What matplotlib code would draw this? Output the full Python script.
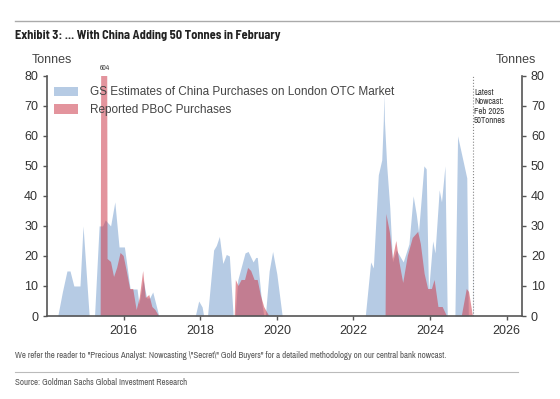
import matplotlib.pyplot as plt
import numpy as np

# GS nowcast of China purchases on the London OTC market (decimal year, tonnes)
gs_year = [2014.28, 2014.40, 2014.52, 2014.60, 2014.70, 2014.86, 2014.94, 2015.10,
           2015.24, 2015.36, 2015.45, 2015.52, 2015.66, 2015.77, 2015.88, 2016.02,
           2016.17, 2016.35, 2016.40, 2016.51, 2016.60, 2016.68, 2016.76, 2016.86,
           2016.92, 2017.87, 2017.96, 2018.05, 2018.09, 2018.19, 2018.35, 2018.42,
           2018.50, 2018.59, 2018.68, 2018.76, 2018.86, 2018.91, 2018.98, 2019.17,
           2019.25, 2019.38, 2019.45, 2019.49, 2019.60, 2019.66, 2019.70, 2019.80,
           2019.89, 2020.00, 2020.14, 2022.31, 2022.45, 2022.52, 2022.65, 2022.74,
           2022.78, 2022.795, 2022.81, 2022.87, 2022.95, 2023.02, 2023.12, 2023.30,
           2023.45, 2023.56, 2023.64, 2023.70, 2023.84, 2023.90, 2023.96, 2024.07,
           2024.13, 2024.24, 2024.30, 2024.39, 2024.45, 2024.65, 2024.72, 2024.96,
           2025.00, 2025.12, 2025.13]
gs_tonnes = [0, 8, 15, 15, 10, 10, 30, 0,
             0, 30, 30, 32, 30, 38, 23, 23,
             9, 9, 4, 12, 6, 6, 8, 3,
             0, 0, 5, 3, 0, 0, 22, 23.5,
             26.5, 17.5, 20.5, 20, 0, 0, 12, 21,
             21.5, 18, 19.5, 19.5, 5, 0, 0, 15,
             21.5, 14, 0, 0, 18, 16, 47, 52,
             65, 74, 65, 50, 36, 18, 22, 18,
             24, 40, 34, 28, 50, 49, 8, 25,
             21, 42, 38, 50, 0, 0, 60, 46,
             0, 0, 48]

# Reported PBoC purchases (decimal year, tonnes)
pboc_year = [2015.40, 2015.50, 2015.58, 2015.67, 2015.75, 2015.83, 2015.92, 2016.00,
             2016.08, 2016.17, 2016.25, 2016.34, 2016.42, 2016.51, 2016.58, 2016.67,
             2016.75, 2016.83, 2016.92, 2018.90, 2018.93, 2019.00, 2019.08, 2019.17,
             2019.25, 2019.33, 2019.42, 2019.50, 2019.58, 2019.67, 2019.80, 2022.84,
             2022.86, 2022.95, 2023.03, 2023.12, 2023.20, 2023.30, 2023.42, 2023.55,
             2023.69, 2023.76, 2023.86, 2023.95, 2024.05, 2024.12, 2024.22, 2024.33,
             2024.44, 2024.83, 2024.96, 2025.02, 2025.12]
pboc_tonnes = [0, 604, 19, 18, 13, 16, 21, 20,
               15, 9, 9, 2, 6, 15, 6, 7,
               3, 2, 0, 0, 12, 10, 12, 12,
               16, 15, 12, 12, 7, 3, 0, 0,
               34, 28, 19, 25, 18, 11, 20, 26,
               28, 24, 14, 9, 9, 12, 3, 3,
               0, 0, 9, 8, 0]

year_ticks = [2016, 2018, 2020, 2022, 2024, 2026]
tonne_ticks = [0, 10, 20, 30, 40, 50, 60, 70, 80]

plt.rcParams['font.family'] = ['Liberation Sans', 'DejaVu Sans']
narrow = ['Archivo Narrow', 'DejaVu Sans']
axis_col = '#555555'

fig = plt.figure(figsize=(5.6, 3.99), dpi=100)
ax = fig.add_axes([0.084, 0.208, 0.848, 0.602])

ax.fill_between(gs_year, gs_tonnes, 0, color='#a9c2e0', alpha=0.85, lw=0,
                label='GS Estimates of China Purchases on London OTC Market')
ax.fill_between(pboc_year, pboc_tonnes, 0, color='#cc3d4d', alpha=0.55, lw=0,
                label='Reported PBoC Purchases')

ax.set_xlim(2014.0, 2026.4)
ax.set_ylim(0, 80)
ax.set_xticks(year_ticks)
ax.set_yticks(tonne_ticks)
ax.tick_params(axis='both', labelsize=9, colors=axis_col, labelcolor='#333333',
               length=3, width=1)
for side in ['top', 'right']:
    ax.spines[side].set_visible(False)
for side in ['left', 'bottom']:
    ax.spines[side].set_color(axis_col)
    ax.spines[side].set_linewidth(1.2)

ax2 = ax.twinx()
ax2.set_ylim(0, 80)
ax2.set_yticks(tonne_ticks)
ax2.tick_params(axis='y', labelsize=9, colors=axis_col, labelcolor='#333333',
                length=3, width=1)
for side in ['top', 'left', 'bottom']:
    ax2.spines[side].set_visible(False)
ax2.spines['right'].set_color(axis_col)
ax2.spines['right'].set_linewidth(1.2)

# nowcast marker
ax.axvline(2025.13, color='#888888', lw=0.8, ls=':')
ax.text(2025.15, 76, 'Latest\nNowcast:\nFeb 2025\n50Tonnes', fontsize=6.3,
        family=narrow, color='#333333', va='top', ha='left', linespacing=1.05)
ax.text(2015.5, 81.5, '604', fontsize=5.5, family=narrow, color='#444444',
        ha='center', va='bottom')

ax.legend(loc='upper left', bbox_to_anchor=(0.0, 0.985), frameon=False, fontsize=8.5,
          handlelength=2.0, handleheight=0.9, handletextpad=1.0, labelspacing=0.5,
          borderaxespad=0.2, labelcolor='#444444')

fig.text(0.057, 0.842, 'Tonnes', fontsize=9, color='#444444', ha='left')
fig.text(0.885, 0.842, 'Tonnes', fontsize=9, color='#444444', ha='left')

# header / footer
fig.add_artist(plt.Line2D([0.027, 1.0], [0.948, 0.948], color='#aaaaaa', lw=1))
fig.text(0.027, 0.903, 'Exhibit 3: ... With China Adding 50 Tonnes in February',
         fontsize=8.9, fontweight='bold', color='#222222',
         family=['Barlow Semi Condensed', 'DejaVu Sans'])
fig.text(0.027, 0.103,
         'We refer the reader to "Precious Analyst: Nowcasting \\"Secret\\" Gold Buyers" '
         'for a detailed methodology on our central bank nowcast.',
         fontsize=6.4, color='#555555', family=narrow)
fig.add_artist(plt.Line2D([0.027, 0.925], [0.068, 0.068], color='#bbbbbb', lw=0.8))
fig.text(0.027, 0.035, 'Source: Goldman Sachs Global Investment Research',
         fontsize=6.4, color='#555555', family=narrow)

fig.savefig('out.png', dpi=100)
